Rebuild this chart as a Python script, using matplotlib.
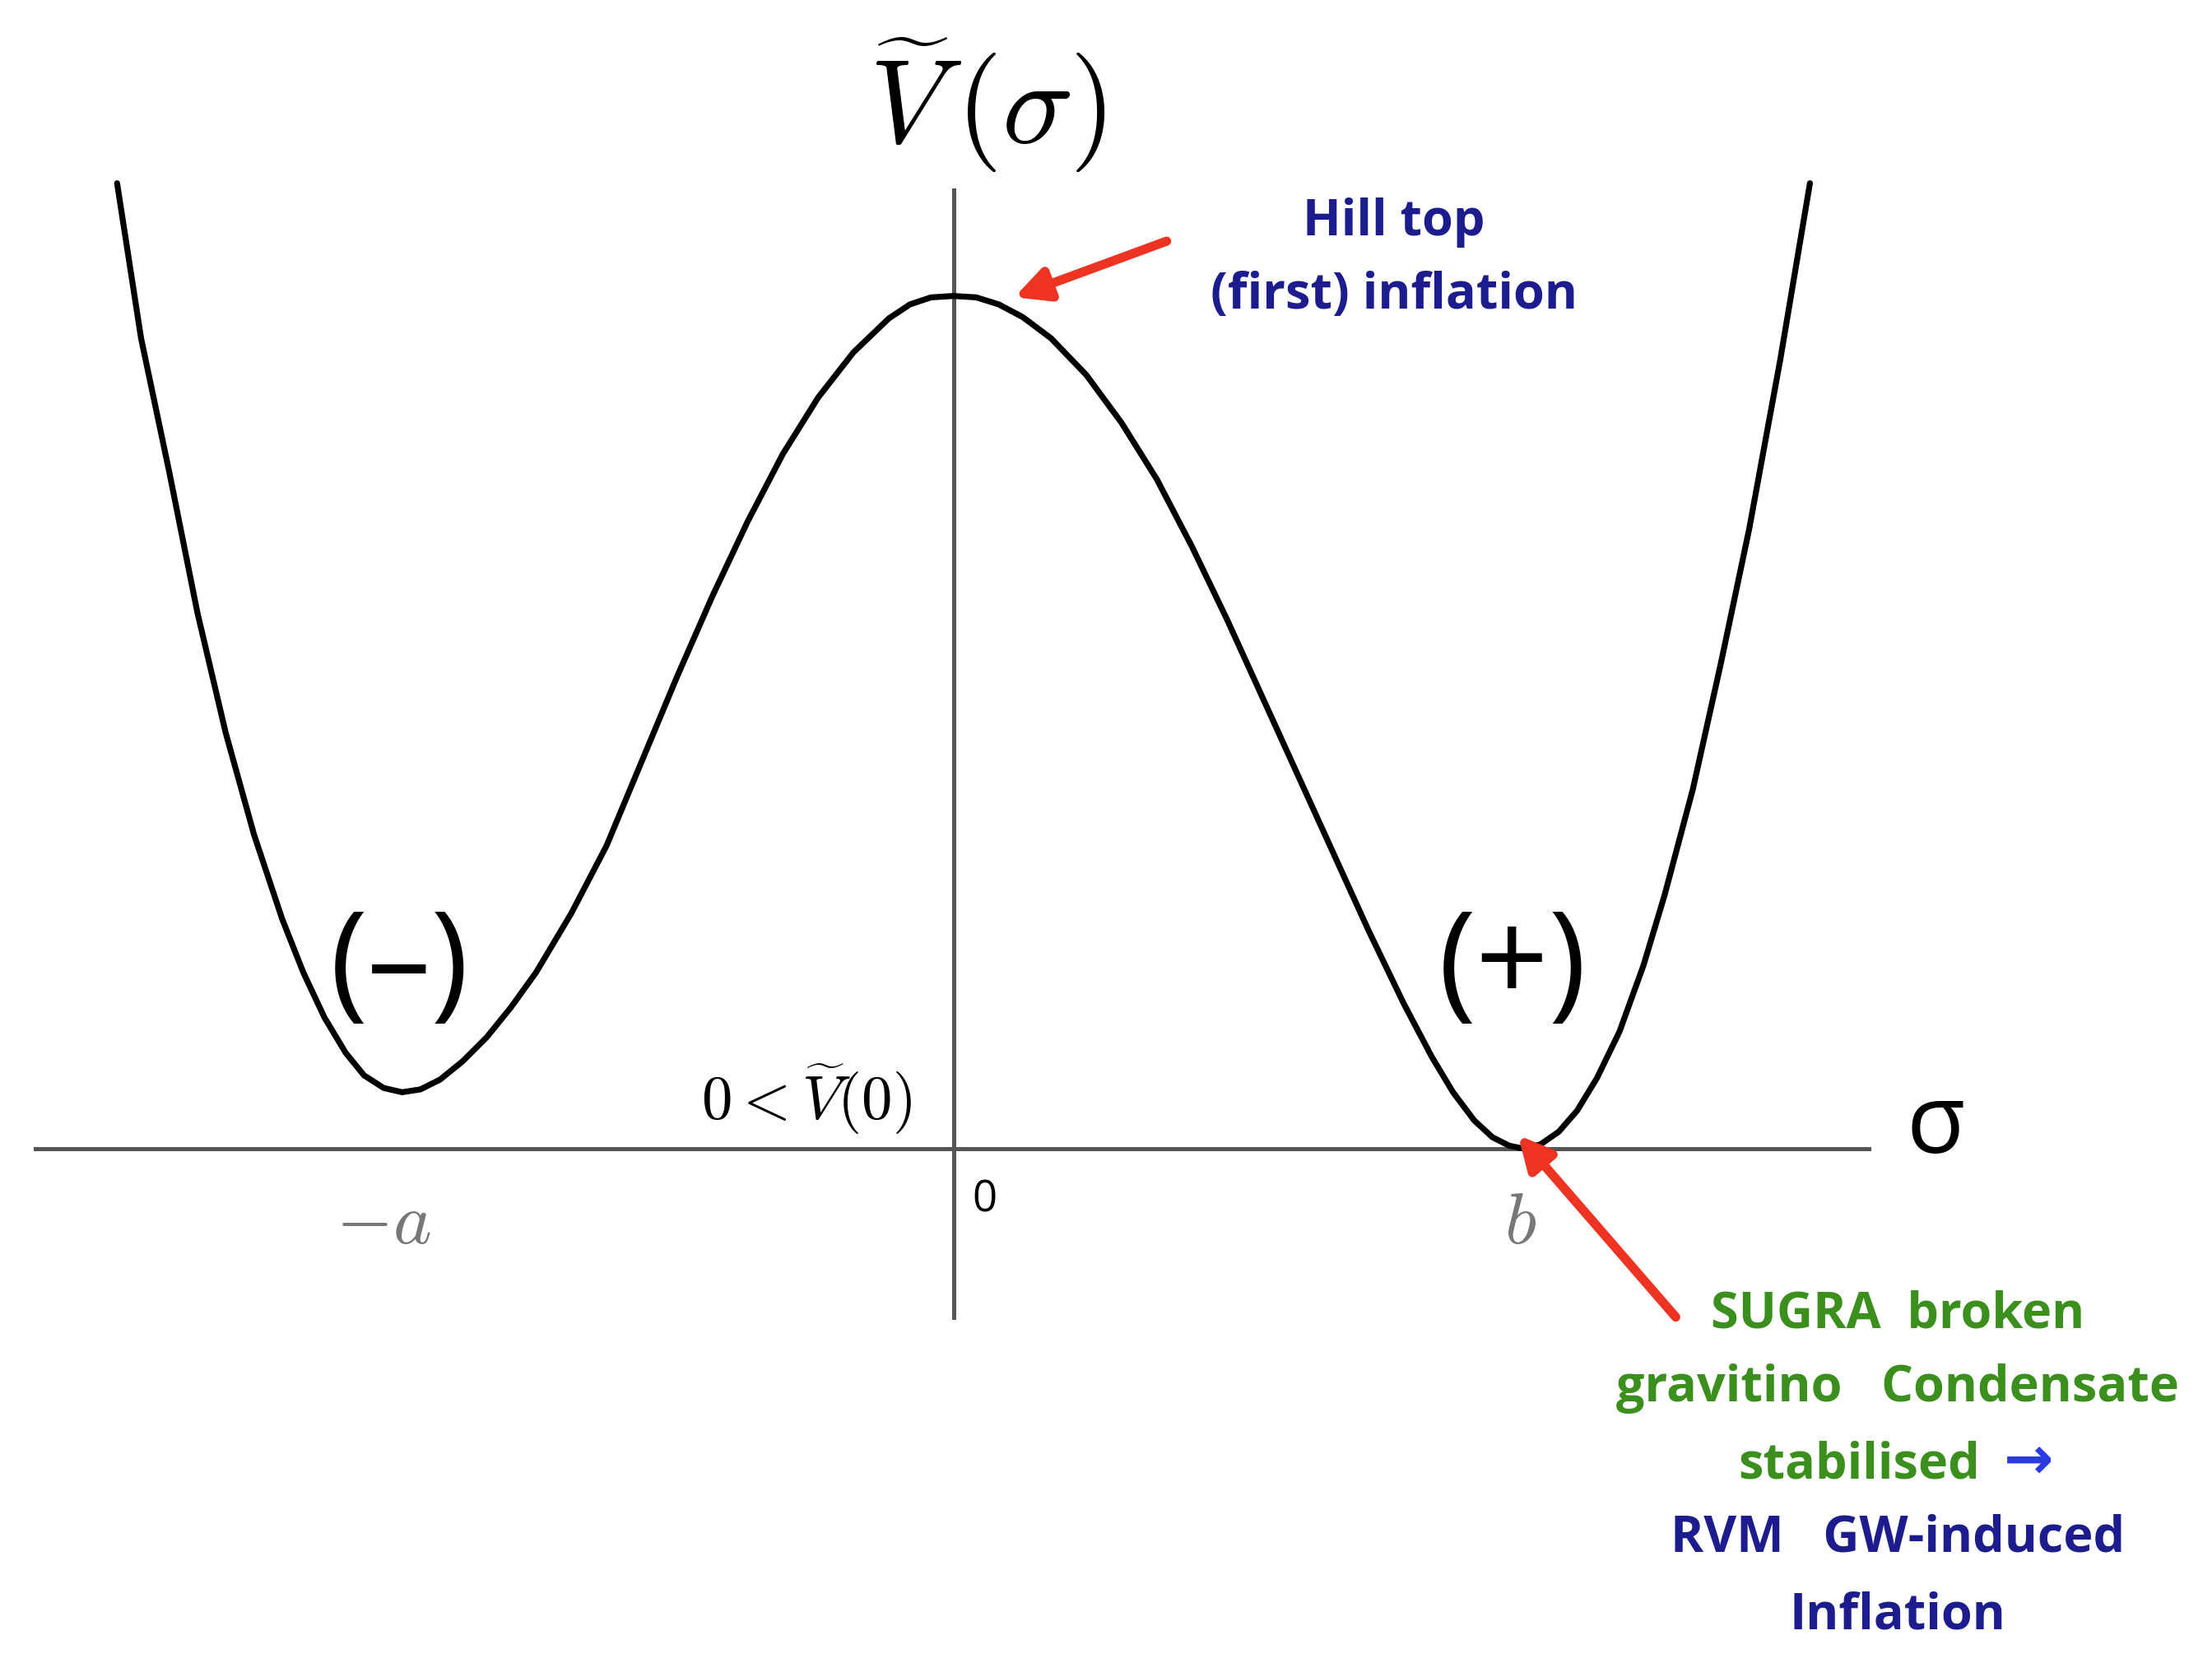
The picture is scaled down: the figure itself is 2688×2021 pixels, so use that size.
import matplotlib
matplotlib.use("Agg")
import matplotlib.pyplot as plt

# curve points (picture pixel coords, y down)
curve_x = [83, 100, 120, 140, 160, 180, 200, 215, 230, 245, 258, 272, 285, 298, 312, 328, 345,
           362, 380, 405, 430, 455, 480, 505, 530, 555, 580, 605, 630, 645, 660, 676, 692,
           708, 725, 745, 770, 795, 820, 845, 870, 895, 920, 945, 970, 995, 1015, 1030,
           1045, 1058, 1070, 1080, 1092, 1105, 1118, 1132, 1148, 1165, 1180, 1200, 1220,
           1240, 1262, 1283]
curve_y = [130, 240, 335, 435, 520, 592, 652, 690, 722, 747, 763, 772, 775, 773, 766, 753, 736,
           715, 690, 648, 600, 540, 480, 423, 370, 322, 282, 250, 226, 216, 211, 210, 211,
           216, 225, 240, 266, 300, 340, 388, 440, 495, 550, 605, 660, 712, 750, 775,
           795, 807, 813, 815, 812, 803, 788, 765, 732, 685, 635, 560, 470,
           375, 255, 130]

sigma_labels = ["$-a$", "$b$"]
sigma_pos = [272, 1078]

navy = "#1c1c8e"
green = "#3b8f1c"
red = "#ee3322"
gray = "#555555"
sans = ["Open Sans", "DejaVu Sans"]

fig = plt.figure(figsize=(13.44, 10.105), dpi=200)
ax = fig.add_axes([0, 0, 1, 1])
ax.set_xlim(0, 1568)
ax.set_ylim(1180, 0)
ax.axis("off")

# axes
ax.plot([25, 1325], [815, 815], color=gray, lw=1.8)
ax.plot([676, 676], [135, 935], color=gray, lw=1.8)

ax.plot(curve_x, curve_y, color="black", lw=2.6, solid_capstyle="round", solid_joinstyle="round")

ax.text(700, 75, r"$\widetilde{V}\,(\sigma)$", fontsize=52, ha="center", va="center",
        math_fontfamily="cm")
ax.text(1372, 800, "σ", fontsize=42, ha="center", va="center", family=sans)
ax.text(572, 780, r"$0 < \widetilde{V}(0)$", fontsize=27, ha="center", va="center",
        math_fontfamily="cm")
ax.text(698, 852, "0", fontsize=19, ha="center", va="center", family=sans)
for lab, px in zip(sigma_labels, sigma_pos):
    ax.text(px, 868, lab, fontsize=32, ha="center", va="center", color="#777777",
            math_fontfamily="cm")

ax.text(283, 688, "(–)", fontsize=56, ha="center", va="center", family=sans)
ax.text(1072, 688, "(+)", fontsize=56, ha="center", va="center", family=sans)

ax.text(988, 158, "Hill top", fontsize=22, ha="center", va="center", color=navy,
        weight="bold", family=sans)
ax.text(988, 210, "(first) inflation", fontsize=22, ha="center", va="center", color=navy,
        weight="bold", family=sans)

ax.annotate("", xy=(716, 212), xytext=(830, 170),
            arrowprops=dict(arrowstyle="-|>,head_length=1.2,head_width=0.6", color=red, lw=4))
ax.annotate("", xy=(1074, 803), xytext=(1190, 937),
            arrowprops=dict(arrowstyle="-|>,head_length=1.2,head_width=0.6", color=red, lw=4))

ax.text(1345, 933, "SUGRA  broken", fontsize=22, ha="center", va="center", color=green,
        weight="bold", family=sans)
ax.text(1345, 985, "gravitino   Condensate", fontsize=22, ha="center", va="center",
        color=green, weight="bold", family=sans)
ax.text(1318, 1040, "stabilised", fontsize=22, ha="center", va="center", color=green,
        weight="bold", family=sans)
ax.text(1438, 1038, "→", fontsize=26, ha="center", va="center", color="#2a3ae8",
        weight="bold", family=sans)
ax.text(1345, 1092, "RVM   GW-induced", fontsize=22, ha="center", va="center", color=navy,
        weight="bold", family=sans)
ax.text(1345, 1147, "Inflation", fontsize=22, ha="center", va="center", color=navy,
        weight="bold", family=sans)

fig.savefig("out.png", dpi=200)
